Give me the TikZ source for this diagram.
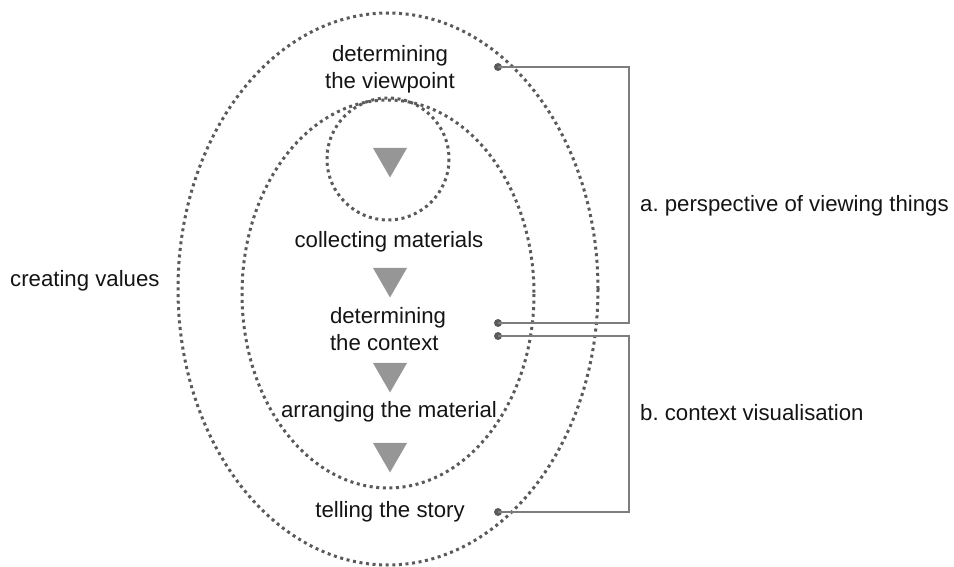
\documentclass[tikz,border=0pt]{standalone}
\usepackage{fontspec}
\setmainfont{Liberation Sans}
\frenchspacing
\usetikzlibrary{shapes.geometric, positioning}
\definecolor{ringgray}{RGB}{90,90,90}
\definecolor{linegray}{RGB}{125,125,125}
\definecolor{trigray}{RGB}{150,150,150}
\definecolor{textblack}{RGB}{20,20,20}

\begin{document}
\begin{tikzpicture}[x=1pt,y=-1pt,font=\fontsize{22.2}{27}\selectfont,text=textblack]

	\tikzset{ring/.style={draw=ringgray, line width=3pt,
			dash pattern=on 3pt off 3.6pt}}
	\tikzset{stage/.style={inner sep=0pt, align=center}}
	\tikzset{stagetri/.style={regular polygon, regular polygon sides=3,
			shape border rotate=180, minimum size=39.3pt,
			inner sep=0pt, fill=trigray, draw=none}}
	\tikzset{bracket/.style={draw=linegray, line width=1.8pt}}
	\tikzset{enddot/.style={circle, fill=ringgray, minimum size=8pt,
			inner sep=0pt}}

	\useasboundingbox (0,0) rectangle (954,567);

	% rings
	\draw[ring] (388,289) ellipse [x radius=210, y radius=276];
	\draw[ring] (388,294) ellipse [x radius=146, y radius=194];
	\draw[ring] (388,159) circle [radius=61];

	% stages
	\node[stage] (view) at (390,69) {determining\\the viewpoint};
	\node[stage] (collect) at (389,242) {collecting materials};
	\node[stage, align=left] (context) at (388,329) {determining\\the context};
	\node[stage] (arrange) at (389,412) {arranging the material};
	\node[stage] (story) at (390,512) {telling the story};

	\foreach \ty [count=\i] in {157.8,277.8,372.8,452.8}
		\node[stagetri] (tri\i) at (390,\ty) {};

	% labels
	\node[anchor=west, inner sep=0pt] (values) at (10,281) {creating values};
	\node[anchor=west, inner sep=0pt] (labela) at (640,206) {a. perspective of viewing things};
	\node[anchor=west, inner sep=0pt] (labelb) at (640,413) {b. context visualisation};

	% bracket ends
	\node[enddot] (aview) at (498,67) {};
	\node[enddot] (acontext) at (498,323) {};
	\node[enddot] (bcontext) at (498,336) {};
	\node[enddot] (bstory) at (498,512) {};

	\draw[bracket] (aview.center) -- ++(131,0) |- (acontext.center);
	\draw[bracket] (bcontext.center) -- ++(131,0) |- (bstory.center);
\end{tikzpicture}
\end{document}
